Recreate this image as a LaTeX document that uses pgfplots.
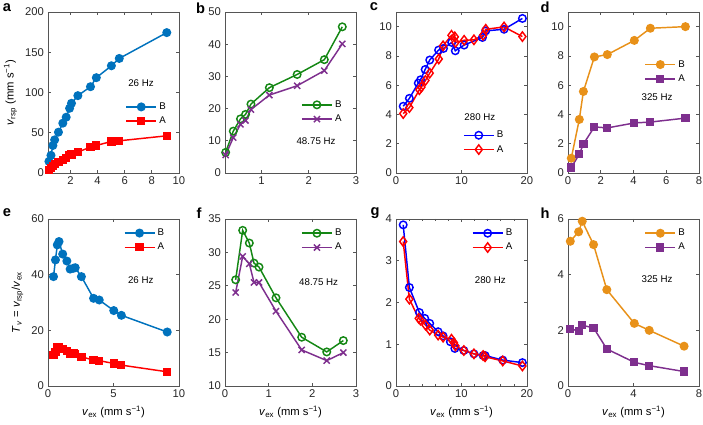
\documentclass[border=0pt]{standalone}
\usepackage{fontspec}
\setmainfont{Liberation Sans}
\usepackage{pgfplots}
\pgfplotsset{compat=1.18}

\definecolor{mblue}{RGB}{0,114,189}
\definecolor{mred}{RGB}{255,0,0}
\definecolor{mgreen}{RGB}{20,135,20}
\definecolor{mpurple}{RGB}{126,47,142}
\definecolor{pblue}{RGB}{0,0,255}
\definecolor{morange}{RGB}{232,145,25}
\definecolor{axgray}{RGB}{85,85,85}

\newcommand{\tickfont}{\fontsize{9.6}{11}\selectfont}
\newcommand{\smallfont}{\fontsize{8.3}{9.5}\selectfont}
\newcommand{\vex}{\textit{v}\textsubscript{ex} (mm s\textsuperscript{−1})}

\pgfplotsset{
  panel/.style={
    scale only axis, width=3.93cm, clip=false,
    axis line style={draw=axgray, line width=0.6pt},
    tick style={draw=axgray, line width=0.6pt},
    major tick length=2.2pt, minor tick length=1.5pt,
    tick label style={font=\tickfont, text=black!85},
    label style={font=\tickfont},
    /pgf/number format/assume math mode=true,
    every axis plot/.append style={line width=1.25pt},
    legend cell align=left,
    legend style={draw=none, fill=none, font=\smallfont, inner sep=0pt,
      row sep=1pt, anchor=west},
    legend image code/.code={\draw[mark repeat=2, mark phase=2]
      plot coordinates {(0cm,0cm) (0.45cm,0cm) (0.9cm,0cm)};},
  },
  toprow/.style={panel, height=4.83cm},
  botrow/.style={panel, height=5.01cm, xlabel={\vex}},
  fcirc/.style={mark=*, mark size=3.2pt, mark options={solid, fill=#1}, color=#1},
  fsq/.style={mark=square*, mark size=2.9pt, mark options={solid, fill=#1}, color=#1},
  ocirc/.style={mark=o, mark size=3.2pt, mark options={solid, fill=white}, color=#1},
  xmk/.style={mark=x, mark size=3.7pt, mark options={solid}, color=#1},
  odia/.style={mark=diamond, mark size=4pt, mark options={solid, fill=white}, color=#1},
}

\begin{document}
\begin{tikzpicture}
\useasboundingbox (0,0) rectangle (21.09,12.72);

% ---- a ----
\begin{axis}[toprow, at={(1.44cm,7.53cm)},
  xmin=0.35, xmax=10, ymin=0, ymax=200,
  xtick={2,4,6,8,10}, ytick={0,50,100,150,200},
  ylabel={\textit{v}\textsubscript{rsp} (mm s\textsuperscript{−1})},
  legend style={at={(rel axis cs:0.59,0.366)}}]
\addplot[fcirc=mblue] coordinates {(0.42,14.4) (0.57,21.9) (0.71,34.2) (0.84,41.2) (1.12,50.7) (1.44,61.9) (1.69,69.3) (1.94,80.4) (2.08,86.6) (2.55,96.1) (3.48,107.2) (3.91,118.4) (5.02,133.2) (5.6,142.3) (9.1,174.4)};
\addplot[fsq=mred] coordinates {(0.42,3.3) (0.57,6.2) (0.71,9.0) (0.84,11.5) (1.12,13.6) (1.44,16.5) (1.69,18.6) (1.94,21.9) (2.08,23.0) (2.55,26.0) (3.48,32.2) (3.91,34.2) (5.02,39.2) (5.6,40.0) (9.1,46.2)};
\legend{B, A}
\node[font=\smallfont] at (rel axis cs:0.71,0.555) {26 Hz};
\end{axis}

% ---- b ----
\begin{axis}[toprow, at={(6.75cm,7.53cm)},
  xmin=0.23, xmax=3, ymin=0, ymax=50,
  xtick={1,2,3}, ytick={0,10,...,50},
  legend style={at={(rel axis cs:0.58,0.379)}}]
\addplot[ocirc=mgreen] coordinates {(0.244,6.4) (0.405,13.0) (0.557,16.8) (0.664,18.2) (0.779,21.4) (1.168,26.5) (1.756,30.6) (2.33,35.2) (2.71,45.4)};
\addplot[xmk=mpurple] coordinates {(0.244,5.6) (0.405,11.0) (0.557,15.1) (0.664,16.3) (0.779,19.7) (1.168,24.2) (1.756,27.1) (2.33,31.8) (2.71,40.1)};
\legend{B, A}
\node[font=\smallfont] at (rel axis cs:0.695,0.195) {48.75 Hz};
\end{axis}

% ---- c ----
\begin{axis}[toprow, at={(11.88cm,7.53cm)},
  xmin=0, xmax=20, ymin=0, ymax=11,
  xtick={0,10,20}, ytick={0,2,...,10},
  legend style={at={(rel axis cs:0.51,0.19)}}]
\addplot[ocirc=pblue] coordinates {(1.1,4.56) (2.04,5.10) (3.4,6.14) (3.75,6.37) (4.45,7.07) (5.15,7.72) (6.5,8.40) (7.25,8.51) (8.5,8.92) (9.05,8.35) (10.4,8.74) (13.2,9.26) (13.7,9.71) (16.5,9.82) (19.3,10.56)};
\addplot[odia=mred] coordinates {(1.1,4.06) (2.04,4.47) (3.57,5.69) (3.88,5.87) (4.49,6.32) (5.15,6.82) (6.53,7.79) (7.19,8.69) (8.47,9.41) (8.98,9.30) (9.08,8.92) (10.4,9.07) (11.9,9.10) (13.3,9.41) (13.7,9.82) (16.5,9.98) (19.3,9.32)};
\legend{B, A}
\node[font=\smallfont] at (rel axis cs:0.64,0.346) {280 Hz};
\end{axis}

% ---- d ----
\begin{axis}[toprow, at={(17.04cm,7.53cm)},
  xmin=0, xmax=8, ymin=0, ymax=11,
  xtick={0,2,...,8}, ytick={0,2,...,10},
  legend style={at={(rel axis cs:0.583,0.629)}}]
\addplot[fcirc=morange] coordinates {(0.2,1.01) (0.69,3.66) (0.94,5.57) (1.61,7.93) (2.40,8.09) (4.05,9.06) (5.03,9.89) (7.17,10.0)};
\addplot[fsq=mpurple] coordinates {(0.2,0.38) (0.69,1.28) (0.94,1.98) (1.61,3.15) (2.40,3.08) (4.05,3.42) (5.03,3.48) (7.17,3.75)};
\legend{B, A}
\node[font=\smallfont] at (rel axis cs:0.68,0.468) {325 Hz};
\end{axis}

% ---- e ----
\begin{axis}[botrow, at={(1.44cm,1.14cm)},
  xmin=0, xmax=10, ymin=0, ymax=60,
  xtick={0,5,10}, ytick={0,20,40,60},
  ylabel={\textit{T}\textsubscript{\textit{v}} = \textit{v}\textsubscript{rsp}/\textit{v}\textsubscript{ex}},
  legend style={at={(rel axis cs:0.577,0.873)}}]
\addplot[fcirc=mblue] coordinates {(0.42,39.3) (0.57,45.3) (0.71,50.7) (0.84,51.9) (1.12,47.4) (1.44,44.9) (1.69,42.0) (1.94,42.3) (2.08,42.5) (2.55,39.3) (3.48,31.5) (3.91,30.9) (5.02,27.1) (5.6,25.4) (9.1,19.4)};
\addplot[fsq=mred] coordinates {(0.42,11.1) (0.57,12.3) (0.71,13.9) (0.84,14.1) (1.12,13.3) (1.44,12.7) (1.69,11.7) (1.94,11.7) (2.08,11.5) (2.55,10.5) (3.48,9.3) (3.91,9.1) (5.02,8.1) (5.6,7.5) (9.1,5.1)};
\legend{B, A}
\node[font=\smallfont] at (rel axis cs:0.708,0.635) {26 Hz};
\end{axis}

% ---- f ----
\begin{axis}[botrow, at={(6.75cm,1.14cm)},
  xmin=0, xmax=3, ymin=10, ymax=35,
  xtick={0,1,2,3}, ytick={10,15,...,35},
  legend style={at={(rel axis cs:0.58,0.872)}}]
\addplot[ocirc=mgreen] coordinates {(0.244,25.9) (0.405,33.3) (0.557,31.4) (0.664,28.4) (0.779,27.8) (1.168,23.2) (1.756,17.3) (2.33,15.1) (2.71,16.8)};
\addplot[xmk=mpurple] coordinates {(0.244,24.0) (0.405,29.4) (0.557,28.3) (0.664,25.5) (0.779,25.5) (1.168,21.2) (1.756,15.4) (2.33,13.8) (2.71,15.0)};
\legend{B, A}
\node[font=\smallfont] at (rel axis cs:0.715,0.62) {48.75 Hz};
\end{axis}

% ---- g ----
\begin{axis}[botrow, at={(11.88cm,1.14cm)},
  xmin=0, xmax=20, ymin=0, ymax=4,
  xtick={0,10,20}, ytick={0,1,...,4}, minor x tick num=4,
  legend style={at={(rel axis cs:0.578,0.872)}}]
\addplot[ocirc=pblue] coordinates {(1.1,3.86) (2.04,2.36) (3.57,1.76) (4.39,1.62) (5.15,1.50) (6.43,1.30) (7.19,1.20) (8.3,1.06) (8.98,0.90) (10.36,0.85) (11.9,0.77) (13.3,0.73) (13.6,0.73) (16.3,0.62) (19.3,0.56)};
\addplot[odia=mred] coordinates {(1.1,3.46) (2.04,2.08) (3.47,1.62) (3.73,1.58) (4.5,1.46) (5.15,1.34) (6.43,1.22) (7.19,1.17) (8.47,1.12) (8.83,1.04) (9.08,0.96) (10.36,0.85) (11.9,0.77) (13.3,0.73) (13.6,0.70) (16.3,0.60) (19.3,0.48)};
\legend{B, A}
\node[font=\smallfont] at (rel axis cs:0.72,0.635) {280 Hz};
\end{axis}

% ---- h ----
\begin{axis}[botrow, at={(17.04cm,1.14cm)},
  xmin=0, xmax=8, ymin=0, ymax=6,
  xtick={0,4,8}, ytick={0,2,4,6},
  legend style={at={(rel axis cs:0.583,0.872)}}]
\addplot[fcirc=morange] coordinates {(0.14,5.20) (0.65,5.54) (0.87,5.92) (1.56,5.08) (2.37,3.46) (4.05,2.25) (4.96,2.0) (7.09,1.43)};
\addplot[fsq=mpurple] coordinates {(0.14,2.06) (0.65,1.97) (0.87,2.18) (1.56,2.09) (2.37,1.33) (4.05,0.85) (4.96,0.73) (7.09,0.52)};
\legend{B, A}
\node[font=\smallfont] at (rel axis cs:0.68,0.64) {325 Hz};
\end{axis}

% panel letters
\foreach \l/\x/\y in {a/0.21/12.48, b/6.02/12.48, c/11.22/12.51, d/16.35/12.51,
                      e/0.21/6.33, f/5.97/6.33, g/11.25/6.33, h/16.35/6.33}
  \node[font=\fontsize{12.5}{14}\selectfont\bfseries] at (\x,\y) {\l};
\end{tikzpicture}
\end{document}
